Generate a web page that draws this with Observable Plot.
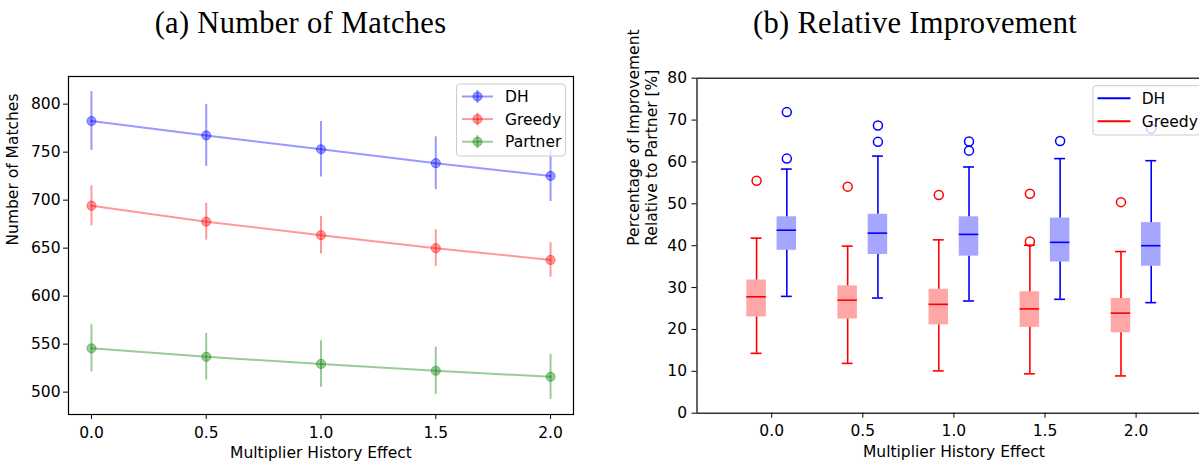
<!DOCTYPE html>
<html>
<head>
<meta charset="utf-8">
<script src="https://cdn.jsdelivr.net/npm/d3@7"></script>
<script src="https://cdn.jsdelivr.net/npm/@observablehq/plot@0.6"></script>
<style>
  html, body { margin: 0; padding: 0; background: #fff; }
  #page { position: relative; width: 1199px; height: 462px; overflow: hidden; background: #fff; }
  #page > svg { position: absolute; top: 0; }
</style>
</head>
<body>
<div id="page"></div>
<script>
// ---- shared x values -------------------------------------------------------
const multipliers = [0, 0.5, 1.0, 1.5, 2.0];
const xTickFormat = d3.format(".1f");

// ---- (a) number of matches: mean and standard deviation per strategy --------
const strategiesA = ["DH", "Greedy", "Partner"];
const colorsA = ["blue", "red", "green"];
const dhMean = [782.4, 767.4, 753.0, 738.5, 725.2];
const dhErr = [30.6, 32.3, 29.0, 27.5, 26.6];
const greedyMean = [694.2, 677.6, 663.5, 650.0, 637.7];
const greedyErr = [20.9, 19.3, 19.5, 19.0, 17.9];
const partnerMean = [545.6, 536.8, 529.4, 522.3, 515.9];
const partnerErr = [24.6, 24.3, 24.2, 24.7, 23.5];
const matchTicks = [500, 550, 600, 650, 700, 750, 800];

// ---- (b) relative improvement over Partner: box statistics ------------------
const strategiesB = ["DH", "Greedy"];
const colorsB = ["blue", "red"];
const greedyLow = [14.3, 11.9, 10.1, 9.4, 8.9];
const greedyQ1 = [23.0, 22.5, 21.1, 20.5, 19.2];
const greedyMedian = [27.8, 27.0, 26.0, 24.9, 23.9];
const greedyQ3 = [31.8, 30.4, 29.6, 29.0, 27.4];
const greedyHigh = [41.8, 39.9, 41.4, 40.1, 38.6];
const greedyOutliers = [[55.5], [54.1], [52.1], [41.0, 52.4], [50.4]];
const dhLow = [27.9, 27.5, 26.8, 27.2, 26.4];
const dhQ1 = [38.9, 37.9, 37.5, 36.1, 35.1];
const dhMedian = [43.7, 43.0, 42.7, 40.8, 40.0];
const dhQ3 = [46.9, 47.5, 46.9, 46.6, 45.5];
const dhHigh = [58.3, 61.4, 58.8, 60.8, 60.3];
const dhOutliers = [[60.8, 71.9], [64.8, 68.7], [62.7, 64.9], [65.0], [67.9]];
const improvementTicks = [0, 10, 20, 30, 40, 50, 60, 70, 80];

// ---- tidy rows --------------------------------------------------------------
const seriesA = [
  {name: "DH", mean: dhMean, err: dhErr},
  {name: "Greedy", mean: greedyMean, err: greedyErr},
  {name: "Partner", mean: partnerMean, err: partnerErr}
];
const rowsA = seriesA.flatMap(s => multipliers.map((m, i) => ({
  series: s.name, x: m, y: s.mean[i], lo: s.mean[i] - s.err[i], hi: s.mean[i] + s.err[i]
})));

const boxShift = 0.083;   // side-by-side offset of the two boxes
const boxWidth = 0.107;
const capWidth = 0.06;
const seriesB = [
  {name: "Greedy", side: -1, low: greedyLow, q1: greedyQ1, med: greedyMedian, q3: greedyQ3, high: greedyHigh, out: greedyOutliers},
  {name: "DH", side: 1, low: dhLow, q1: dhQ1, med: dhMedian, q3: dhQ3, high: dhHigh, out: dhOutliers}
];
const boxes = seriesB.flatMap(s => multipliers.map((m, i) => ({
  series: s.name, x: m + s.side * boxShift,
  low: s.low[i], q1: s.q1[i], med: s.med[i], q3: s.q3[i], high: s.high[i]
})));
const fliers = seriesB.flatMap(s => multipliers.flatMap((m, i) =>
  s.out[i].map(v => ({series: s.name, x: m + s.side * boxShift, y: v}))));

const baseStyle = {fontFamily: "DejaVu Sans", fontSize: "15.5px", color: "black", background: "transparent", overflow: "visible"};

// ---- (a) line chart with error bars ----------------------------------------
const chartA = Plot.plot({
  width: 600, height: 462,
  marginLeft: 68, marginRight: 27, marginTop: 76, marginBottom: 48,
  style: baseStyle,
  x: {domain: [-0.1, 2.1]},
  y: {domain: [476.7, 828.8]},
  color: {domain: strategiesA, range: colorsA},
  marks: [
    Plot.axisX({ticks: multipliers, tickFormat: xTickFormat, tickSize: 5, tickPadding: 7, label: null}),
    Plot.axisY({ticks: matchTicks, tickSize: 5, tickPadding: 3, label: null}),
    Plot.line(rowsA, {x: "x", y: "y", z: "series", stroke: "series", strokeOpacity: 0.4, strokeWidth: 2}),
    Plot.ruleX(rowsA, {x: "x", y1: "lo", y2: "hi", stroke: "series", strokeOpacity: 0.4, strokeWidth: 2}),
    Plot.dot(rowsA, {x: "x", y: "y", r: 4.6, fill: "series", fillOpacity: 0.4, stroke: "series", strokeOpacity: 0.4, strokeWidth: 1}),
    Plot.frame({stroke: "black", strokeWidth: 1.2}),
    Plot.text(["Multiplier History Effect"], {frameAnchor: "bottom", dy: 39, lineAnchor: "middle"}),
    Plot.text(["Number of Matches"], {frameAnchor: "left", rotate: -90, dx: -55, lineAnchor: "middle"})
  ]
});
chartA.style.left = "0px";

// ---- (b) grouped box plots --------------------------------------------------
const chartB = Plot.plot({
  width: 630, height: 462,
  marginLeft: 96.5, marginRight: 19.7, marginTop: 77.7, marginBottom: 49.3,
  style: baseStyle,
  x: {domain: [-0.41, 2.41]},
  y: {domain: [0, 80]},
  color: {domain: strategiesB, range: colorsB},
  marks: [
    Plot.axisX({ticks: multipliers, tickFormat: xTickFormat, tickSize: 5, tickPadding: 7, label: null}),
    Plot.axisY({ticks: improvementTicks, tickSize: 5, tickPadding: 5, label: null}),
    Plot.rect(boxes, {x1: d => d.x - boxWidth / 2, x2: d => d.x + boxWidth / 2, y1: "q1", y2: "q3", fill: "series", fillOpacity: 0.35}),
    Plot.ruleX(boxes, {x: "x", y1: "q3", y2: "high", stroke: "series", strokeWidth: 1.6}),
    Plot.ruleX(boxes, {x: "x", y1: "low", y2: "q1", stroke: "series", strokeWidth: 1.6}),
    Plot.ruleY(boxes, {y: "high", x1: d => d.x - capWidth / 2, x2: d => d.x + capWidth / 2, stroke: "series", strokeWidth: 1.6}),
    Plot.ruleY(boxes, {y: "low", x1: d => d.x - capWidth / 2, x2: d => d.x + capWidth / 2, stroke: "series", strokeWidth: 1.6}),
    Plot.ruleY(boxes, {y: "med", x1: d => d.x - boxWidth / 2, x2: d => d.x + boxWidth / 2, stroke: "series", strokeWidth: 1.6}),
    Plot.dot(fliers, {x: "x", y: "y", r: 4.5, stroke: "series", fill: "none", strokeWidth: 1.5}),
    Plot.frame({stroke: "black", strokeWidth: 1.2}),
    Plot.text(["Multiplier History Effect"], {frameAnchor: "bottom", dy: 39, lineAnchor: "middle"}),
    Plot.text(["Percentage of Improvement\nRelative to Partner [%]"], {frameAnchor: "left", rotate: -90, dx: -55, lineAnchor: "middle", lineHeight: 1.16})
  ]
});
chartB.style.left = "600px";

const page = document.getElementById("page");
page.appendChild(chartA);
page.appendChild(chartB);

// ---- titles and legends drawn on top ----------------------------------------
const overlay = d3.select(page).append("svg")
  .attr("width", 1199).attr("height", 462)
  .style("left", "0px")
  .attr("font-family", "DejaVu Sans").attr("font-size", 15.5);

overlay.selectAll("text.title")
  .data([{t: "(a) Number of Matches", x: 300.5}, {t: "(b) Relative Improvement", x: 915}])
  .join("text")
  .attr("x", d => d.x).attr("y", 33)
  .attr("text-anchor", "middle")
  .attr("font-family", "Liberation Serif").attr("font-size", 30.5)
  .attr("letter-spacing", 0.3)
  .text(d => d.t);

// legend for (a): line + marker + error-bar handles
const legA = overlay.append("g");
legA.append("rect").attr("x", 456.5).attr("y", 84).attr("width", 109).attr("height", 72).attr("rx", 3)
  .attr("fill", "white").attr("fill-opacity", 0.8).attr("stroke", "#cccccc");
strategiesA.forEach((name, i) => {
  const y = 96.5 + i * 22.6, c = colorsA[i];
  legA.append("line").attr("x1", 462).attr("x2", 493).attr("y1", y).attr("y2", y)
    .attr("stroke", c).attr("stroke-opacity", 0.4).attr("stroke-width", 2);
  legA.append("line").attr("x1", 477.5).attr("x2", 477.5).attr("y1", y - 6.5).attr("y2", y + 6.5)
    .attr("stroke", c).attr("stroke-opacity", 0.4).attr("stroke-width", 2);
  legA.append("circle").attr("cx", 477.5).attr("cy", y).attr("r", 4.6)
    .attr("fill", c).attr("fill-opacity", 0.4).attr("stroke", c).attr("stroke-opacity", 0.4);
  legA.append("text").attr("x", 505).attr("y", y + 5.5).text(name);
});

// legend for (b): plain line handles
const legB = overlay.append("g");
legB.append("rect").attr("x", 1093).attr("y", 85.7).attr("width", 117).attr("height", 49.3).attr("rx", 3)
  .attr("fill", "white").attr("fill-opacity", 0.8).attr("stroke", "#cccccc");
strategiesB.forEach((name, i) => {
  const y = 98.3 + i * 23, c = colorsB[i];
  legB.append("line").attr("x1", 1097.5).attr("x2", 1130.5).attr("y1", y).attr("y2", y)
    .attr("stroke", c).attr("stroke-width", 2);
  legB.append("text").attr("x", 1141.7).attr("y", y + 5.5).text(name);
});
</script>
</body>
</html>
